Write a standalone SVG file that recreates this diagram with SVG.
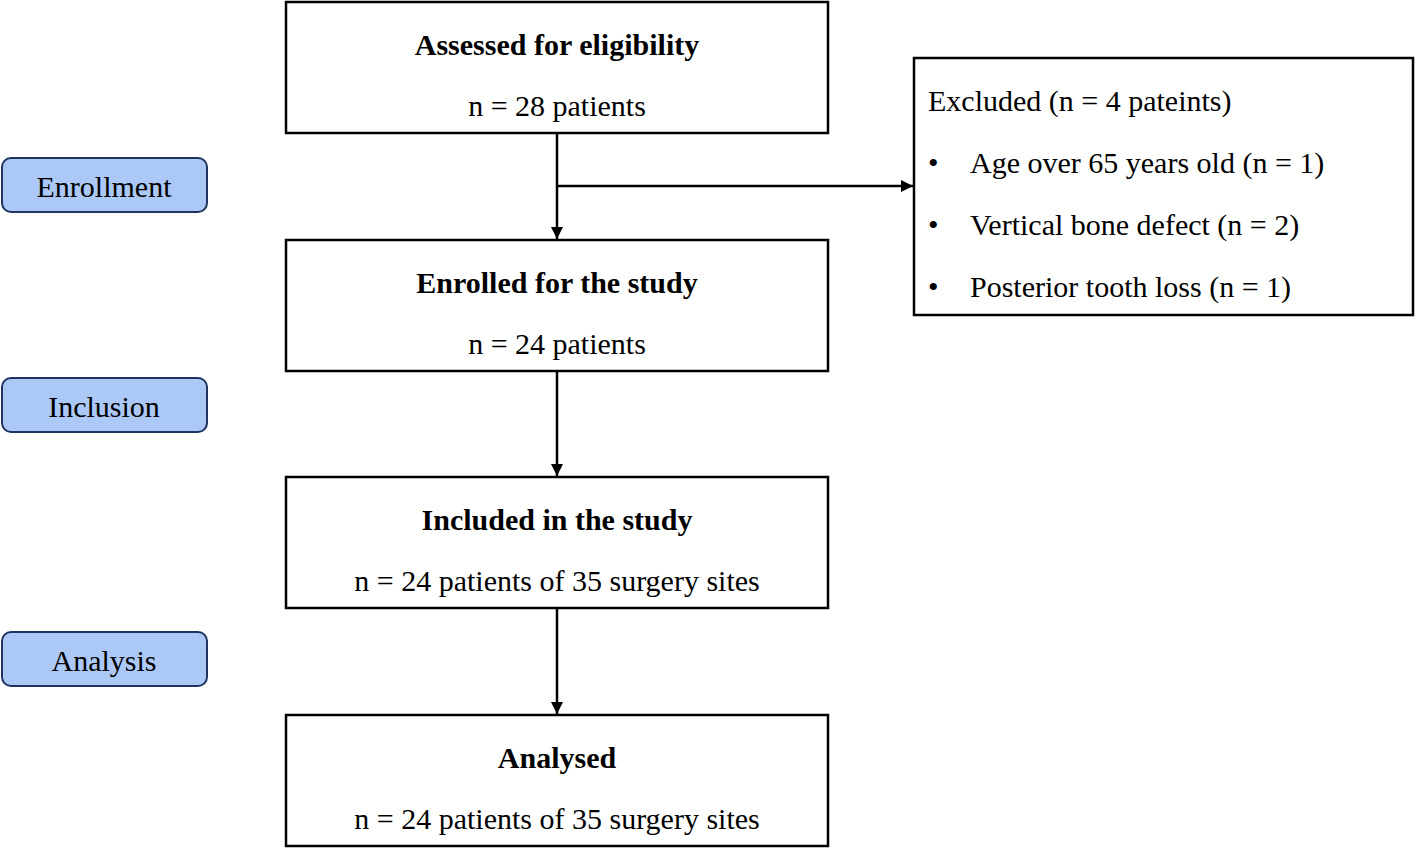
<svg xmlns="http://www.w3.org/2000/svg" width="1416" height="850" viewBox="0 0 1416 850">
<style>
.box{fill:#fff;stroke:#000;stroke-width:2.5}
.lab{fill:#abc8f7;stroke:#1f3560;stroke-width:2}
text{font-family:"Liberation Serif",serif;font-size:30px;fill:#000}
.b{font-weight:bold}
.c{text-anchor:middle}
.ln{stroke:#000;stroke-width:2.5;fill:none}
</style>
<defs><marker id="ah" viewBox="0 0 10 10" refX="10" refY="5" markerWidth="12" markerHeight="12" markerUnits="userSpaceOnUse" orient="auto"><path d="M0,0L10,5L0,10z" fill="#000"/></marker></defs>
<g id="enrollment"><rect class="lab" x="2" y="158" width="205" height="54" rx="9"/><text class="c" x="104" y="197">Enrollment</text></g>
<g id="inclusion"><rect class="lab" x="2" y="378" width="205" height="54" rx="9"/><text class="c" x="104" y="417">Inclusion</text></g>
<g id="analysis"><rect class="lab" x="2" y="632" width="205" height="54" rx="9"/><text class="c" x="104" y="671">Analysis</text></g>
<g id="assessed"><rect class="box" x="286" y="2" width="542" height="131"/><text class="c b" x="557" y="55">Assessed for eligibility</text><text class="c" x="557" y="116">n = 28 patients</text></g>
<g id="enrolled"><rect class="box" x="286" y="240" width="542" height="131"/><text class="c b" x="557" y="293">Enrolled for the study</text><text class="c" x="557" y="354">n = 24 patients</text></g>
<g id="included"><rect class="box" x="286" y="477" width="542" height="131"/><text class="c b" x="557" y="530">Included in the study</text><text class="c" x="557" y="591">n = 24 patients of 35 surgery sites</text></g>
<g id="analysed"><rect class="box" x="286" y="715" width="542" height="131"/><text class="c b" x="557" y="768">Analysed</text><text class="c" x="557" y="829">n = 24 patients of 35 surgery sites</text></g>
<g id="excluded"><rect class="box" x="914" y="58" width="499" height="257"/>
<text x="928" y="111">Excluded (n = 4 pateints)</text>
<text x="928" y="173">•</text><text x="970" y="173">Age over 65 years old (n = 1)</text>
<text x="928" y="235">•</text><text x="970" y="235">Vertical bone defect (n = 2)</text>
<text x="928" y="297">•</text><text x="970" y="297">Posterior tooth loss (n = 1)</text></g>
<g id="connectors">
<path class="ln" d="M557,133V239" marker-end="url(#ah)"/>
<path class="ln" d="M557,186H913" marker-end="url(#ah)"/>
<path class="ln" d="M557,371V476" marker-end="url(#ah)"/>
<path class="ln" d="M557,608V714" marker-end="url(#ah)"/>
</g>
</svg>
